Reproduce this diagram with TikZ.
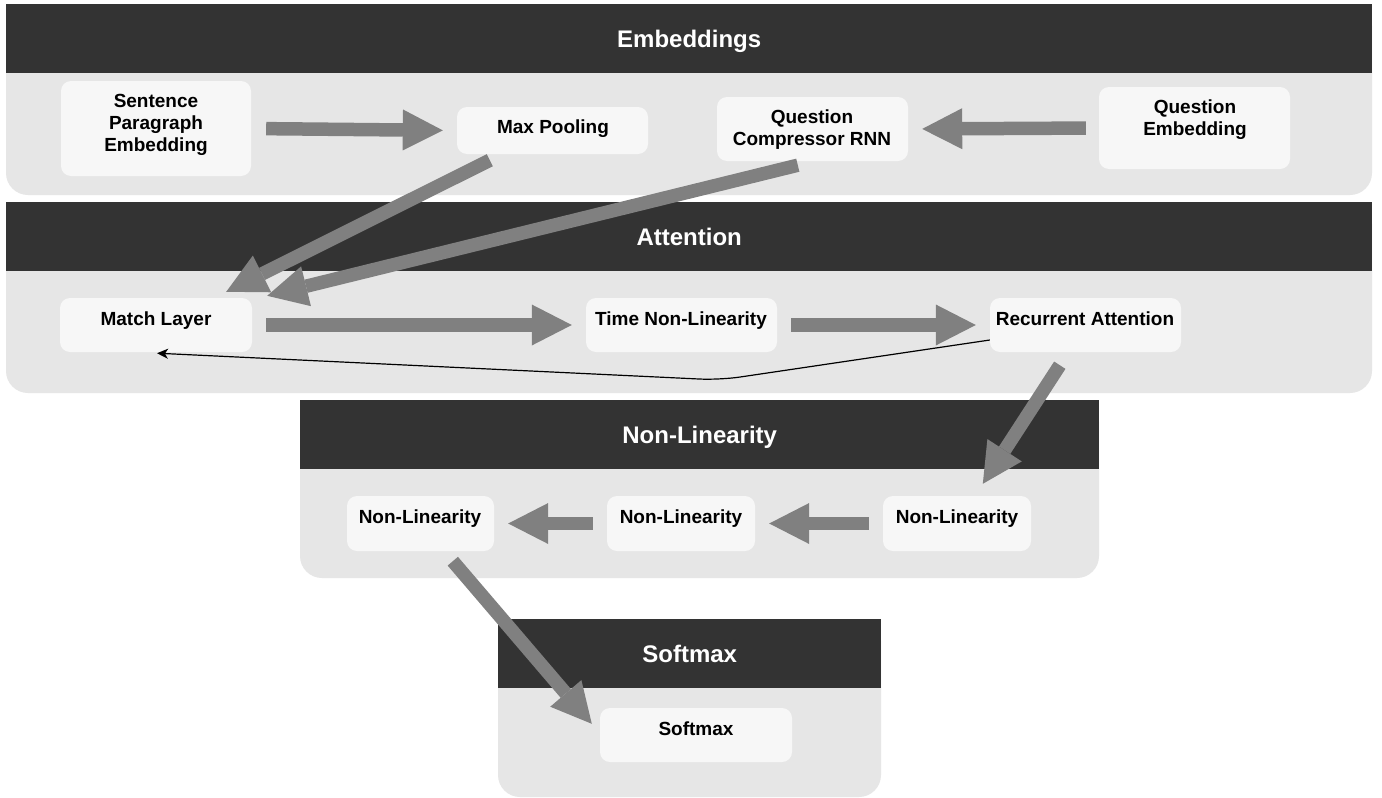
\documentclass[tikz,border=0pt]{standalone}
\usepackage{fontspec}
\setmainfont{Liberation Sans}
\usetikzlibrary{arrows.meta}
\definecolor{hdrc}{HTML}{333333}
\definecolor{bodyc}{HTML}{E6E6E6}
\definecolor{boxc}{HTML}{F7F7F7}
\definecolor{arrc}{HTML}{808080}
\begin{document}
\begin{tikzpicture}[x=1pt,y=-1pt,
  hdr/.style={fill=hdrc, text=white, font=\fontsize{24}{28}\selectfont\bfseries, inner sep=0pt, anchor=north west, minimum height=69pt, text height=17pt, text depth=0pt},
  body/.style={fill=bodyc, rounded corners=22pt},
  box/.style={fill=boxc, rounded corners=10pt, inner sep=0pt},
  lbl/.style={font=\fontsize{19}{22}\selectfont\bfseries, align=center, inner sep=0pt},
  lblone/.style={lbl, text height=14pt, text depth=4pt},
  blk/.style={draw=arrc, line width=13.5pt, -{Triangle[length=40pt,width=41pt,line width=0pt]}},
  thinarr/.style={draw=black, line width=1.2pt, rounded corners=20pt, -{Stealth[length=11pt,width=10pt,inset=3pt]}}
]
\useasboundingbox (0,0) rectangle (1382,798);
\fill[white] (0,0) rectangle (1382,798);

% groups
\fill[body] (6,4) rectangle (1372,195);
\node[hdr, minimum width=1366pt] (h1) at (6,4) {Embeddings};
\fill[body] (6,202) rectangle (1372,393);
\node[hdr, minimum width=1366pt] (h2) at (6,202) {Attention};
\fill[body] (300,400) rectangle (1099,578);
\node[hdr, minimum width=799pt] (h3) at (300,400) {Non-Linearity};
\fill[body] (498,619) rectangle (881,797);
\node[hdr, minimum width=383pt] (h4) at (498,619) {Softmax};

% boxes
\node[box, minimum width=190pt, minimum height=95pt] (spe) at (156,128.5) {};
\node[box, minimum width=191pt, minimum height=47pt] (mp) at (552.5,130.5) {};
\node[box, minimum width=191pt, minimum height=64pt] (qc) at (812.5,129) {};
\node[box, minimum width=191pt, minimum height=82pt] (qe) at (1194.5,128) {};
\node[box, minimum width=192pt, minimum height=54pt] (ml) at (156,325) {};
\node[box, minimum width=191pt, minimum height=54pt] (tnl) at (681.5,325) {};
\node[box, minimum width=191pt, minimum height=54pt] (ra) at (1085.5,325) {};
\node[box, minimum width=147pt, minimum height=55pt] (nl1) at (420.5,523.5) {};
\node[box, minimum width=148pt, minimum height=55pt] (nl2) at (681,523.5) {};
\node[box, minimum width=148pt, minimum height=55pt] (nl3) at (957,523.5) {};
\node[box, minimum width=192pt, minimum height=54pt] (sm) at (696,735) {};

% labels
\node[lbl] (tspe) at (156,125) {Sentence\\Paragraph\\Embedding};
\node[lblone] (tmp) at (553,128) {Max Pooling};
\node[lbl] (tqc) at (812,129.5) {Question\\Compressor RNN};
\node[lbl] (tqe) at (1195,120) {Question\\Embedding};
\node[lblone] (tml) at (156,320) {Match Layer};
\node[lblone] (ttnl) at (681,320) {Time Non-Linearity};
\node[lblone] (tra) at (1085,320) {Recurrent Attention};
\node[lblone] (tnl1) at (420,518) {Non-Linearity};
\node[lblone] (tnl2) at (681,518) {Non-Linearity};
\node[lblone] (tnl3) at (957,518) {Non-Linearity};
\node[lblone] (tsm) at (696,730) {Softmax};

% block arrows
\draw[blk, shorten <=15pt, shorten >=14pt] (spe.east) -- (mp.west);
\draw[blk, shorten <=13pt, shorten >=14pt] (qe.west) -- (qc.east);
\draw[blk] ([shift={(33,6)}]mp.south west) -- ([shift={(-26,-6)}]ml.north east);
\draw[blk] ([shift={(81,4)}]qc.south west) -- ([shift={(15,-2)}]ml.north east);
\draw[blk, shorten <=14pt, shorten >=14pt] (ml.east) -- (tnl.west);
\draw[blk, shorten <=14pt, shorten >=14pt] (tnl.east) -- (ra.west);
\draw[blk] ([shift={(70,13)}]ra.south west) -- ([shift={(100,-12)}]nl3.north west);
\draw[blk, shorten <=14pt, shorten >=14pt] (nl3.west) -- (nl2.east);
\draw[blk, shorten <=14pt, shorten >=14pt] (nl2.west) -- (nl1.east);
\draw[blk] ([shift={(106,10)}]nl1.south west) -- ([shift={(-8,16)}]sm.north west);

% thin feedback arrow
\coordinate (bend) at (720,380);
\draw[thinarr] ([shift={(0,15)}]ra.west) -- (bend) -- ([shift={(1,1)}]ml.south);
\end{tikzpicture}
\end{document}
